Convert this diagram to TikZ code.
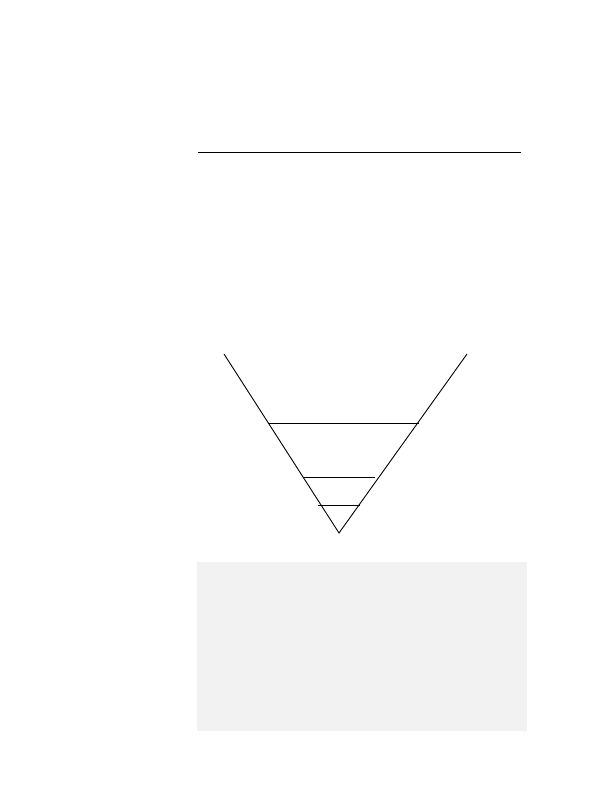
\documentclass[tikz,border=0pt]{standalone}
\begin{document}
\begin{tikzpicture}[x=1pt,y=-1pt,
  thinline/.style={draw=black,line width=0.9pt},
  panel/.style={fill=black!5,draw=none}]
\useasboundingbox (0,0) rectangle (612,792);
% top rule
\coordinate (tl) at (198,152);
\coordinate (tr) at (521,152);
\draw[thinline] (tl) -- (tr);
% V shape
\coordinate (vl) at (224,354);
\coordinate (vr) at (467,354);
\coordinate (apex) at (339,533);
\draw[thinline] (vl) -- (apex) -- (vr);
% horizontal levels
\coordinate (a1) at (268,423);
\coordinate (b1) at (419,423);
\coordinate (a2) at (303,477);
\coordinate (b2) at (375,477);
\coordinate (a3) at (318,505);
\coordinate (b3) at (360,505);
\draw[thinline] (a1) -- (b1);
\draw[thinline] (a2) -- (b2);
\draw[thinline] (a3) -- (b3);
% grey panel
\fill[panel] (197,562) rectangle (527,731);
\end{tikzpicture}
\end{document}
